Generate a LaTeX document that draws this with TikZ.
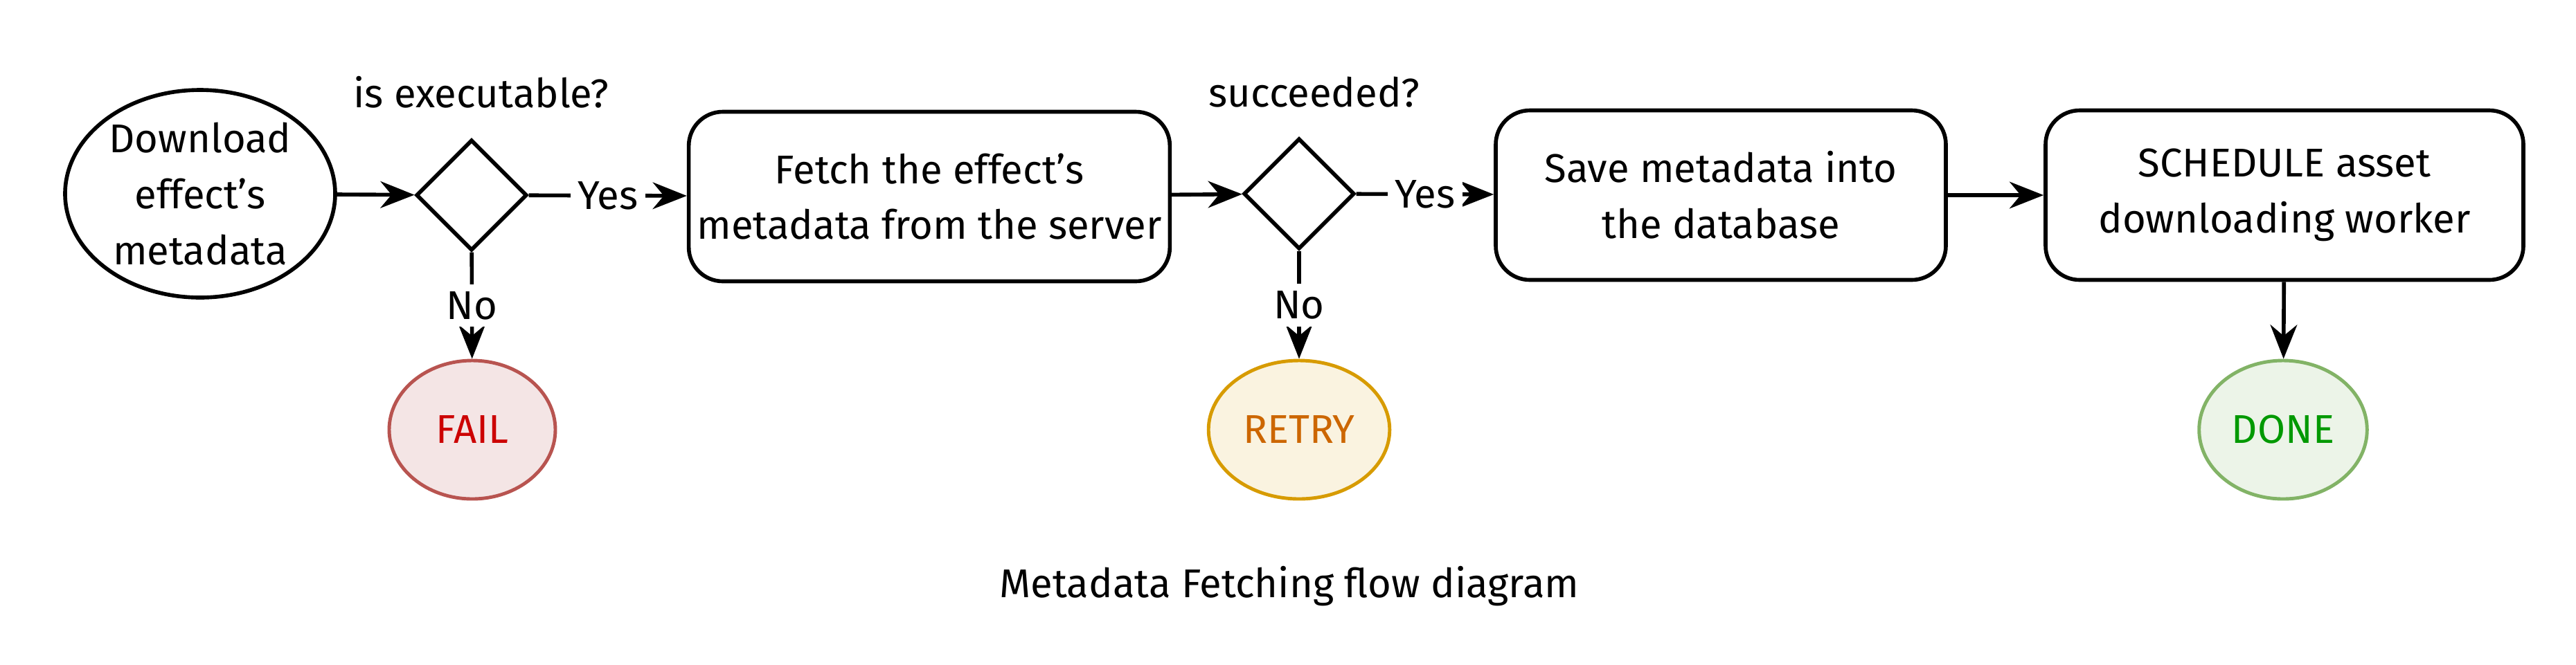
\documentclass[tikz,border=0pt]{standalone}
\usepackage{fontspec}
\setmainfont{Fira Sans}
\usetikzlibrary{shapes.geometric,patterns,arrows.meta}
\definecolor{failline}{HTML}{B85450}
\definecolor{failtext}{HTML}{CC0000}
\definecolor{retryline}{HTML}{D79B00}
\definecolor{retrytext}{HTML}{CC6600}
\definecolor{doneline}{HTML}{82B366}
\definecolor{donetext}{HTML}{009900}

\begin{document}
\begin{tikzpicture}[->,>={Stealth[length=14pt,width=11pt]},line width=1.6pt,font=\fontsize{16.5}{23}\selectfont]
    \tikzstyle{every node}=[line width=1.6pt]
    \tikzstyle{start}=[ellipse,draw,minimum width=3.9cm,minimum height=3.0cm,inner sep=0pt,align=center]
    \tikzstyle{decision}=[diamond,draw,minimum width=1.6cm,minimum height=1.6cm,inner sep=0pt,aspect=0.9]
    \tikzstyle{stepbox}=[rectangle,draw,rounded corners=14pt,minimum width=6.7cm,minimum height=2.45cm,align=center]
    \tikzstyle{final}=[ellipse,line width=1.4pt,minimum width=2.4cm,minimum height=2.0cm]
    \tikzstyle{annot}=[fill=white,inner sep=3pt]

    % background fixes the picture size
    \useasboundingbox (0,0) rectangle (37.2,-9.6);

    % Draw the main row
    \node[start] (S) at (2.89,-2.80) {Download\\effect's\\metadata};
    \node[decision] (D-1) at (6.81,-2.82) {};
    \node[stepbox] (B-1) at (13.42,-2.84) {Fetch the effect's\\metadata from the server};
    \node[decision] (D-2) at (18.76,-2.80) {};
    \node[stepbox,minimum width=6.5cm] (B-2) at (24.85,-2.82) {Save metadata into\\the database};
    \node[stepbox,minimum width=6.9cm] (B-3) at (32.99,-2.82) {SCHEDULE asset\\downloading worker};

    % Draw the end states
    \node[final,draw=failline,fill=failline!15,text=failtext] (F) at (6.82,-6.21) {FAIL};
    \node[final,draw=retryline,fill=retryline!12,text=retrytext] (R) at (18.76,-6.21) {RETRY};
    \node[final,draw=doneline,fill=doneline!15,text=donetext] (E) at (32.97,-6.21) {DONE};

    % Annotate the decisions
    \node (Q-1) at (6.95,-1.33) {is executable?};
    \node (Q-2) at (18.98,-1.33) {succeeded?};
    \node (T) at (18.62,-8.47) {Metadata Fetching flow diagram};

    % Connect
    \path (S) edge (D-1);
    \path (D-1) edge node[annot] {Yes} (B-1);
    \path (B-1) edge (D-2);
    \path (D-2) edge node[annot] {Yes} (B-2);
    \path (B-2) edge (B-3);
    \path (D-1) edge node[annot] {No} (F);
    \path (D-2) edge node[annot] {No} (R);
    \path (B-3) edge (E);
\end{tikzpicture}
\end{document}
